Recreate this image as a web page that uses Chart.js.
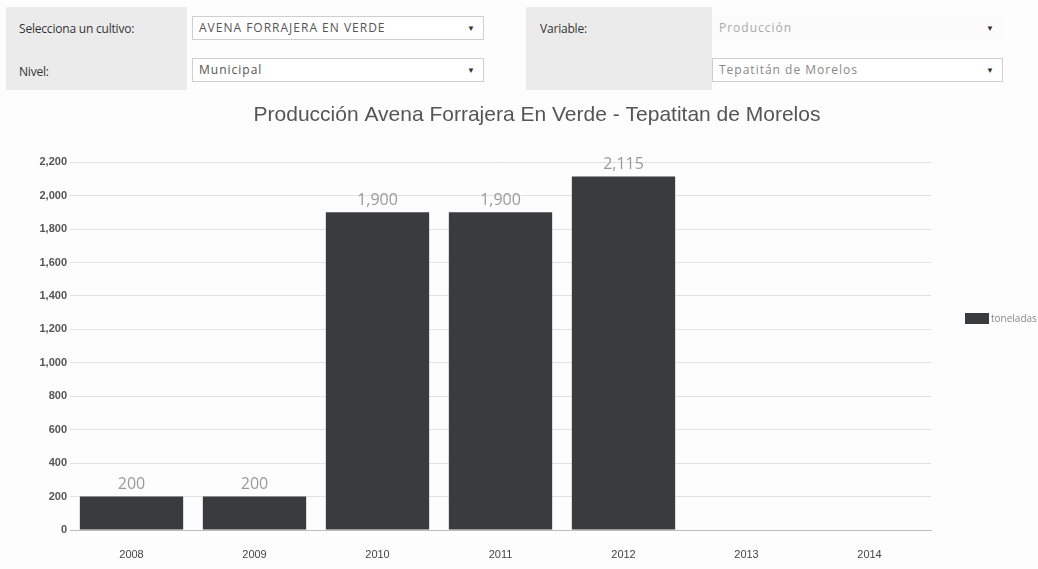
<!DOCTYPE html>
<html>
<head>
<meta charset="utf-8">
<script src="https://cdn.jsdelivr.net/npm/chart.js@4/dist/chart.umd.min.js"></script>
<style>
  html, body { margin: 0; padding: 0; background: #fdfdfd; overflow: hidden; width: 1038px; height: 569px; }
  .panel { position: absolute; background: #ebebeb; }
  .lbl { position: absolute; font: 12px "Open Sans", sans-serif; letter-spacing: -0.2px; color: #333; }
  .sel { position: absolute; height: 24px; box-sizing: border-box; border: 1px solid #cfcfcf; background: #fff;
         font: 12px "Open Sans", sans-serif; letter-spacing: 1px; color: #555; line-height: 22px; padding-left: 6px; }
  .sel.plain { border-color: transparent; background: #fbfbfb; color: #aaa; }
  .sel .arr { position: absolute; right: 8px; top: 0; font-size: 8px; letter-spacing: 0; color: #333; }
  #wrap { position: absolute; left: 0; top: 95px; width: 1074px; height: 474px; }
</style>
</head>
<body>
<div class="panel" style="left:6px;top:7px;width:181px;height:83px;"></div>
<div class="panel" style="left:526px;top:7px;width:186px;height:83px;"></div>
<div class="lbl" style="left:19px;top:20px;">Selecciona un cultivo:</div>
<div class="lbl" style="left:19px;top:63px;">Nivel:</div>
<div class="lbl" style="left:540px;top:20px;">Variable:</div>
<div class="sel" style="left:192px;top:16px;width:292px;">AVENA FORRAJERA EN VERDE<span class="arr">▼</span></div>
<div class="sel" style="left:192px;top:58px;width:292px;">Municipal<span class="arr">▼</span></div>
<div class="sel plain" style="left:712px;top:16px;width:291px;">Producción<span class="arr">▼</span></div>
<div class="sel" style="left:712px;top:58px;width:291px;color:#888;">Tepatitán de Morelos<span class="arr">▼</span></div>

<div id="wrap"><canvas id="chart"></canvas></div>

<script>
const chartTitle = 'Producción Avena Forrajera En Verde - Tepatitan de Morelos';
const years = ['2008', '2009', '2010', '2011', '2012', '2013', '2014'];
const toneladas = [200, 200, 1900, 1900, 2115, null, null];
const seriesLabel = 'toneladas';
const yMax = 2200;
const yStep = 200;

const BAR_COLOR = '#3a3b3d';

// value labels above each bar
const valueLabels = {
  id: 'valueLabels',
  afterDatasetsDraw(chart) {
    const ctx = chart.ctx;
    const meta = chart.getDatasetMeta(0);
    ctx.save();
    ctx.font = '16px "Open Sans", sans-serif';
    ctx.fillStyle = '#9a9a9a';
    ctx.textAlign = 'center';
    ctx.textBaseline = 'middle';
    meta.data.forEach((bar, i) => {
      const v = chart.data.datasets[0].data[i];
      if (v == null) return;
      ctx.fillText(v.toLocaleString('en-US'), bar.x, bar.y - 12);
    });
    ctx.restore();
  },
};

// legend swatch to the right of the plot, clipped by the window edge
const sideLegend = {
  id: 'sideLegend',
  afterDraw(chart) {
    const ctx = chart.ctx;
    const x = chart.chartArea.right + 34;
    const y = 218;
    ctx.save();
    ctx.fillStyle = chart.data.datasets[0].backgroundColor;
    ctx.fillRect(x, y, 24, 11);
    ctx.font = '10px "Open Sans", sans-serif';
    ctx.fillStyle = '#888';
    ctx.textBaseline = 'middle';
    ctx.fillText(chart.data.datasets[0].label, x + 26, y + 6);
    ctx.restore();
  },
};

new Chart(document.getElementById('chart'), {
  type: 'bar',
  data: {
    labels: years,
    datasets: [{
      label: seriesLabel,
      data: toneladas,
      backgroundColor: BAR_COLOR,
      borderWidth: 0,
      barPercentage: 0.84,
      categoryPercentage: 1,
    }],
  },
  options: {
    responsive: true,
    maintainAspectRatio: false,
    animation: false,
    plugins: {
      legend: { display: false },
      tooltip: { enabled: false },
      title: {
        display: true,
        text: chartTitle,
        color: '#555',
        font: { family: 'Arial, "Liberation Sans", sans-serif', size: 21, weight: 'normal' },
        padding: { top: 8, bottom: 34 },
      },
    },
    scales: {
      x: {
        grid: { display: false },
        border: { display: true, color: '#bdbdbd' },
        ticks: {
          color: '#444',
          padding: 10,
          font: { family: '"Liberation Sans Narrow", "Arial Narrow", Arial, sans-serif', size: 11 },
        },
        afterFit(scale) { scale.height = 39; },
      },
      y: {
        min: 0,
        max: yMax,
        ticks: {
          stepSize: yStep,
          color: '#555',
          padding: 3,
          font: { family: 'Arial, "Liberation Sans", sans-serif', size: 11, weight: 'bold' },
        },
        grid: { color: '#e2e2e2', drawTicks: false },
        border: { display: false },
        afterFit(scale) { scale.width = 70; },
      },
      // empty right-hand axis that reserves the legend gutter
      gutter: {
        type: 'linear',
        position: 'right',
        display: true,
        grid: { display: false },
        border: { display: false },
        ticks: { display: false },
        afterFit(scale) { scale.width = 143; },
      },
    },
  },
  plugins: [valueLabels, sideLegend],
});
</script>
</body>
</html>
